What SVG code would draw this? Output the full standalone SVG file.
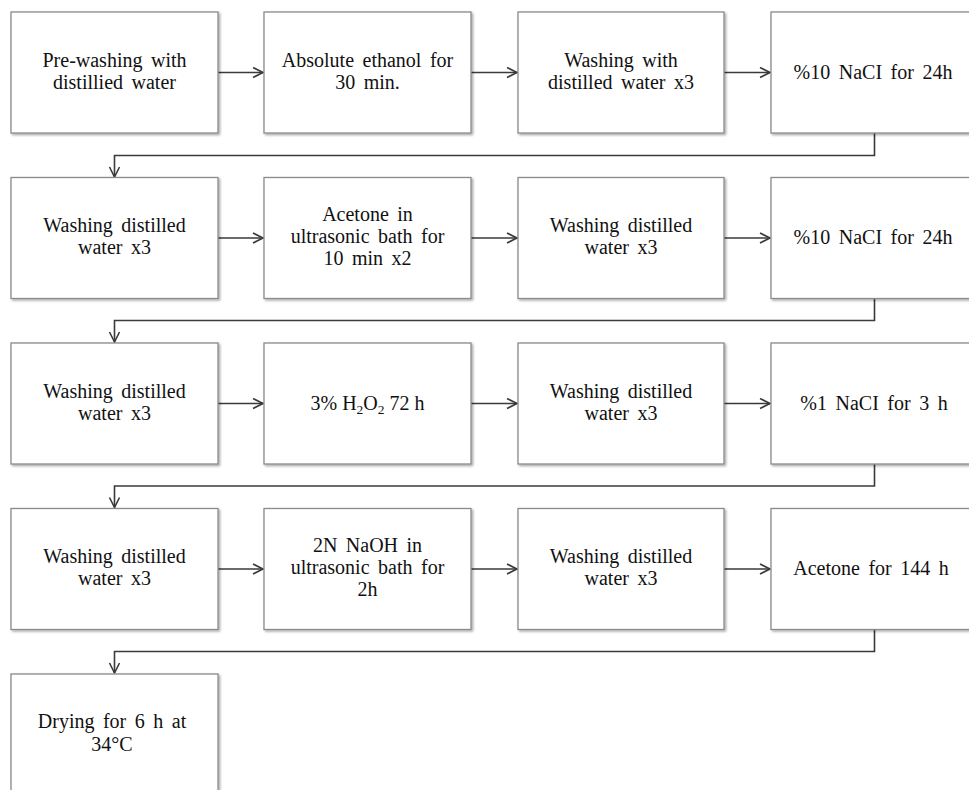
<svg xmlns="http://www.w3.org/2000/svg" width="969" height="790" viewBox="0 0 969 790">
<style>
.box{fill:#fff;stroke:#8a8a8a;stroke-width:1.3;filter:url(#sh)}
.t{font-family:"Liberation Serif","Times New Roman",serif;font-size:20px;word-spacing:3.5px;fill:#111;text-anchor:middle}
.c{fill:none;stroke:#3a3a3a;stroke-width:1.6;marker-end:url(#ah)}
.sub{font-size:13.5px}
</style>
<defs>
<filter id="sh" x="-5%" y="-5%" width="115%" height="115%">
<feDropShadow dx="1.5" dy="1.5" stdDeviation="1.2" flood-color="#000" flood-opacity="0.35"/>
</filter>
<marker id="ah" markerWidth="14" markerHeight="14" refX="11" refY="6" orient="auto" markerUnits="userSpaceOnUse">
<path d="M1,1 L11,6 L1,11" fill="none" stroke="#3a3a3a" stroke-width="1.6"/>
</marker>
</defs>
<g id="connectors">
<path class="c" d="M218,72.5 H263"/>
<path class="c" d="M471,72.5 H517"/>
<path class="c" d="M724,72.5 H770"/>
<path class="c" d="M874.5,133 V155.5 H114.5 V177"/>
<path class="c" d="M218,238 H263"/>
<path class="c" d="M471,238 H517"/>
<path class="c" d="M724,238 H770"/>
<path class="c" d="M874.5,298.5 V320.5 H114.5 V342"/>
<path class="c" d="M218,403.5 H263"/>
<path class="c" d="M471,403.5 H517"/>
<path class="c" d="M724,403.5 H770"/>
<path class="c" d="M874.5,464 V486 H114.5 V507.5"/>
<path class="c" d="M218,569 H263"/>
<path class="c" d="M471,569 H517"/>
<path class="c" d="M724,569 H770"/>
<path class="c" d="M874.5,629.5 V651.5 H114.5 V673"/>
</g>
<g id="n1"><rect class="box" x="11" y="12" width="207" height="121"/><text class="t" x="114.5" y="67">Pre-washing with</text><text class="t" x="114.5" y="89">distillied water</text></g>
<g id="n2"><rect class="box" x="264" y="12" width="207" height="121"/><text class="t" x="367.5" y="67">Absolute ethanol for</text><text class="t" x="367.5" y="89">30 min.</text></g>
<g id="n3"><rect class="box" x="518" y="12" width="206" height="121"/><text class="t" x="621" y="67">Washing with</text><text class="t" x="621" y="89">distilled water x3</text></g>
<g id="n4"><rect class="box" x="771" y="12" width="207" height="121"/><text class="t" x="873" y="79">%10 NaCI for 24h</text></g>

<g id="n5"><rect class="box" x="11" y="177.5" width="207" height="121"/><text class="t" x="114.5" y="232">Washing distilled</text><text class="t" x="114.5" y="254">water x3</text></g>
<g id="n6"><rect class="box" x="264" y="177.5" width="207" height="121"/><text class="t" x="367.5" y="221">Acetone in</text><text class="t" x="367.5" y="243">ultrasonic bath for</text><text class="t" x="367.5" y="265">10 min x2</text></g>
<g id="n7"><rect class="box" x="518" y="177.5" width="206" height="121"/><text class="t" x="621" y="232">Washing distilled</text><text class="t" x="621" y="254">water x3</text></g>
<g id="n8"><rect class="box" x="771" y="177.5" width="207" height="121"/><text class="t" x="873" y="244">%10 NaCI for 24h</text></g>

<g id="n9"><rect class="box" x="11" y="343" width="207" height="121"/><text class="t" x="114.5" y="398">Washing distilled</text><text class="t" x="114.5" y="420">water x3</text></g>
<g id="n10"><rect class="box" x="264" y="343" width="207" height="121"/><text class="t" x="367.5" y="410" style="word-spacing:0">3% H<tspan class="sub" dy="4">2</tspan><tspan dy="-4">O</tspan><tspan class="sub" dy="4">2</tspan><tspan dy="-4"> 72 h</tspan></text></g>
<g id="n11"><rect class="box" x="518" y="343" width="206" height="121"/><text class="t" x="621" y="398">Washing distilled</text><text class="t" x="621" y="420">water x3</text></g>
<g id="n12"><rect class="box" x="771" y="343" width="207" height="121"/><text class="t" x="874" y="410">%1 NaCI for 3 h</text></g>

<g id="n13"><rect class="box" x="11" y="508.5" width="207" height="121"/><text class="t" x="114.5" y="563">Washing distilled</text><text class="t" x="114.5" y="585">water x3</text></g>
<g id="n14"><rect class="box" x="264" y="508.5" width="207" height="121"/><text class="t" x="367.5" y="552">2N NaOH in</text><text class="t" x="367.5" y="574">ultrasonic bath for</text><text class="t" x="367.5" y="596">2h</text></g>
<g id="n15"><rect class="box" x="518" y="508.5" width="206" height="121"/><text class="t" x="621" y="563">Washing distilled</text><text class="t" x="621" y="585">water x3</text></g>
<g id="n16"><rect class="box" x="771" y="508.5" width="207" height="121"/><text class="t" x="871" y="575">Acetone for 144 h</text></g>

<g id="n17"><rect class="box" x="11" y="674" width="207" height="125"/><text class="t" x="112" y="728">Drying for 6 h at</text><text class="t" x="112" y="751">34°C</text></g>
</svg>
